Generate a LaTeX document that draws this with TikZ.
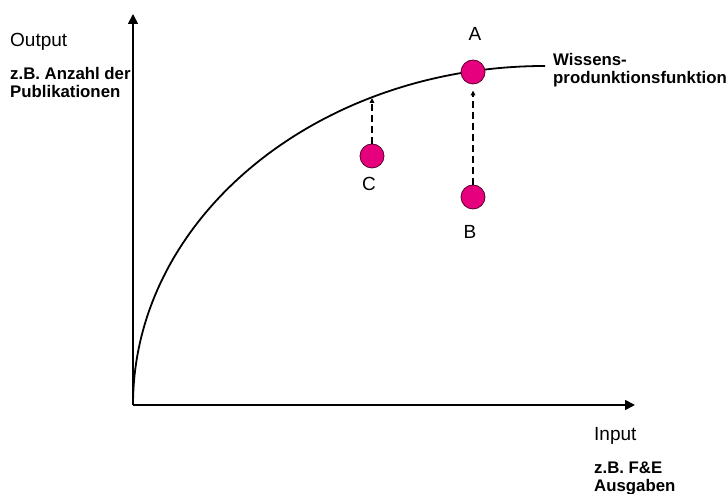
\documentclass[tikz,border=0pt]{standalone}
\usepackage{fontspec}
\setmainfont{Liberation Sans}
\usetikzlibrary{arrows.meta, positioning}
\definecolor{mMagenta}{HTML}{E6007E}
\definecolor{mDark}{HTML}{5A0030}

\begin{document}
\begin{tikzpicture}[x=1pt, y=1pt,
    axis/.style={line width=1.7pt, -{Triangle[length=10pt, width=10pt]}},
    point/.style={circle, draw=mDark, line width=0.8pt, fill=mMagenta, minimum size=24pt, inner sep=0pt},
    move/.style={line width=1.3pt, dash pattern=on 7pt off 4pt, -{Triangle[length=5pt, width=4.5pt]}},
    lbl/.style={inner sep=0pt, font=\fontsize{19}{21}\selectfont},
    note/.style={inner sep=0pt, align=left, font=\fontsize{16.8}{18}\selectfont\bfseries}]
  \useasboundingbox (0,0) rectangle (726,494);
  % axes
  \coordinate (O) at (133,89);
  \coordinate (ytop) at (133,480);
  \coordinate (xend) at (635,89);
  \draw[axis] (O) -- (ytop);
  \draw[axis] (O) -- (xend);
  % knowledge production function
  \draw[line width=1.8pt] (O) arc[start angle=180, end angle=90, x radius=412, y radius=339] coordinate (fend);
  \coordinate (onC) at (372,396);
  % points
  \node[point] (A) at (473,422) {};
  \node[point] (B) at (473,297) {};
  \node[point] (C) at (372,338) {};
  \node[lbl, above=19pt of A, xshift=2pt] (lA) {A};
  \node[lbl, below=16pt of B, xshift=-3pt] (lB) {B};
  \node[lbl, below=9pt of C, xshift=-3pt] (lC) {C};
  \draw[move] (C) -- (onC);
  \draw[move, shorten >=6pt] (B) -- (A);
  % axis texts
  \node[lbl, anchor=base west] (out) at (10,447) {Output};
  \node[note, anchor=north west] (outex) at (10,426.5) {z.B. Anzahl der\\Publikationen};
  \node[lbl, anchor=base west] (in) at (594,53.3) {Input};
  \node[note, anchor=north west] (inex) at (594,32.3) {z.B. F\&E\\Ausgaben};
  \node[note, anchor=north west] (fname) at (553,441) {Wissens-\\produnktionsfunktion};
\end{tikzpicture}
\end{document}
